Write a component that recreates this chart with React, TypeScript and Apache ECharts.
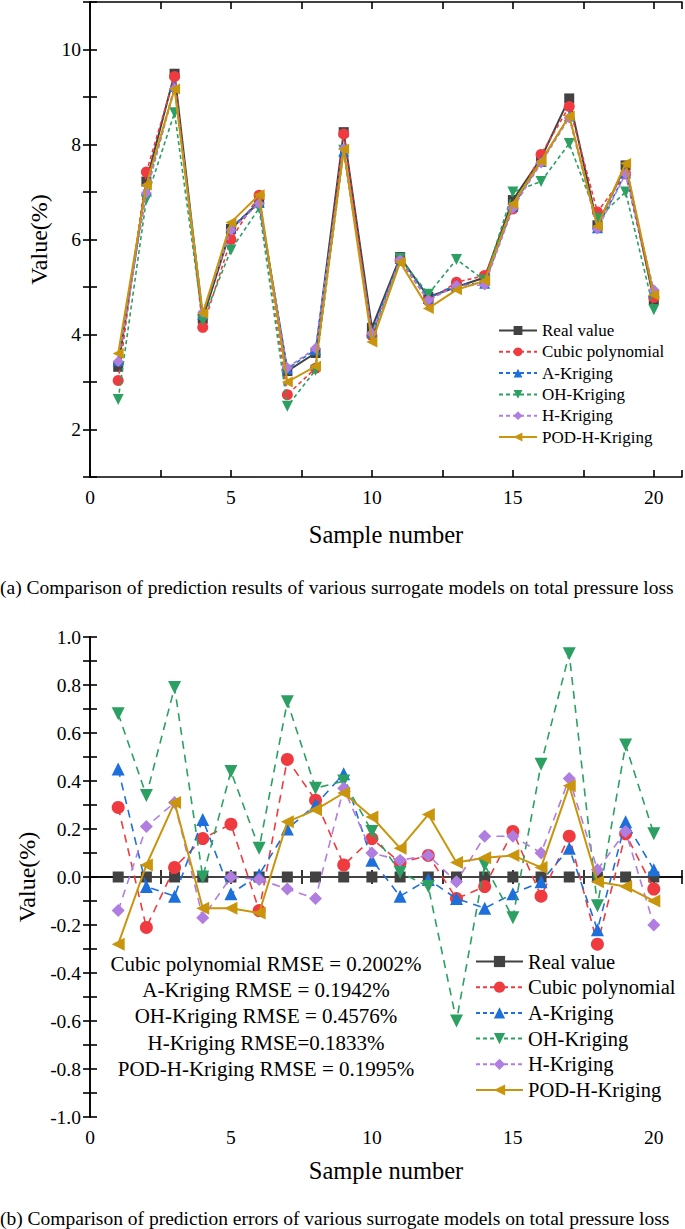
import React, { useEffect, useRef } from "react";
import * as echarts from "echarts";

const samples = [1, 2, 3, 4, 5, 6, 7, 8, 9, 10, 11, 12, 13, 14, 15, 16, 17, 18, 19, 20];

const seriesNames = ["Real value", "Cubic polynomial", "A-Kriging", "OH-Kriging", "H-Kriging", "POD-H-Kriging"];

// (a) predicted values
const realValue = [3.32, 7.22, 9.49, 4.33, 6.22, 6.79, 3.23, 3.61, 8.26, 4.14, 5.63, 4.79, 5.0, 5.2, 6.83, 7.71, 8.97, 6.3, 7.56, 4.73];
const cubicValue = [3.03, 7.42, 9.43, 4.15, 6.0, 6.93, 2.73, 3.29, 8.22, 3.98, 5.56, 4.71, 5.1, 5.24, 6.64, 7.79, 8.8, 6.58, 7.38, 4.78];
const aKrigingValue = [3.45, 7.02, 9.22, 4.42, 6.25, 6.78, 3.28, 3.68, 7.86, 4.05, 5.6, 4.76, 5.05, 5.08, 6.7, 7.64, 8.6, 6.25, 7.4, 4.9];
const ohKrigingValue = [2.63, 6.85, 8.67, 4.3, 5.78, 6.66, 2.49, 3.25, 7.88, 3.95, 5.6, 4.85, 5.58, 5.14, 7.0, 7.22, 8.02, 6.44, 7.0, 4.52];
const hKrigingValue = [3.43, 6.98, 9.18, 4.47, 6.2, 6.76, 3.3, 3.71, 7.91, 4.02, 5.57, 4.72, 5.03, 5.04, 6.66, 7.61, 8.56, 6.22, 7.38, 4.94];
const podValue = [3.6, 7.15, 9.17, 4.44, 6.36, 6.94, 3.0, 3.33, 7.9, 3.84, 5.52, 4.55, 4.94, 5.13, 6.75, 7.65, 8.6, 6.28, 7.6, 4.83];

// (b) prediction errors
const realError = [0, 0, 0, 0, 0, 0, 0, 0, 0, 0, 0, 0, 0, 0, 0, 0, 0, 0, 0, 0];
const cubicError = [0.29, -0.21, 0.04, 0.16, 0.22, -0.14, 0.49, 0.32, 0.05, 0.16, 0.06, 0.09, -0.09, -0.04, 0.19, -0.08, 0.17, -0.28, 0.18, -0.05];
const aKrigingError = [0.45, -0.04, -0.08, 0.24, -0.07, 0.01, 0.2, 0.3, 0.43, 0.07, -0.08, -0.01, -0.09, -0.13, -0.07, -0.02, 0.12, -0.22, 0.23, 0.03];
const ohKrigingError = [0.68, 0.34, 0.79, 0.0, 0.44, 0.12, 0.73, 0.37, 0.4, 0.19, 0.02, -0.04, -0.6, 0.05, -0.17, 0.47, 0.93, -0.12, 0.55, 0.18];
const hKrigingError = [-0.14, 0.21, 0.31, -0.17, 0.0, -0.01, -0.05, -0.09, 0.37, 0.1, 0.07, 0.09, -0.02, 0.17, 0.17, 0.1, 0.41, 0.03, 0.19, -0.2];
const podError = [-0.28, 0.05, 0.31, -0.13, -0.13, -0.15, 0.23, 0.28, 0.35, 0.25, 0.12, 0.26, 0.06, 0.08, 0.09, 0.04, 0.38, -0.02, -0.04, -0.1];

const rmseLines = [
  "Cubic polynomial RMSE = 0.2002%",
  "A-Kriging RMSE = 0.1942%",
  "OH-Kriging RMSE = 0.4576%",
  "H-Kriging RMSE=0.1833%",
  "POD-H-Kriging RMSE = 0.1995%",
];

const captionA = "(a) Comparison of prediction results of various surrogate models on total pressure loss";
const captionB = "(b) Comparison of prediction errors of various surrogate models on total pressure loss";

const FONT = "Liberation Serif";
const colors = ["#424242", "#ef3b3f", "#1d6fdc", "#2ba062", "#b07de0", "#c9950c"];
const symbols = ["rect", "circle", "triangle", "triangle", "diamond", "triangle"];
const rotations = [0, 0, 0, 180, 0, 90];

const App: React.FC = () => {
  const chartRef = useRef<HTMLDivElement>(null);

  useEffect(() => {
    document.body.style.margin = "0";
    const chartDom = chartRef.current;
    if (!chartDom) return;
    const myChart = echarts.init(chartDom, undefined, { renderer: "svg" });

    const axisLine = { show: true, lineStyle: { color: "#000", width: 1.6 } };
    const tick = { show: true, inside: true, length: 7, lineStyle: { color: "#000", width: 1.6 } };

    const makeX = (gridIndex: number, position: "top" | "bottom", nameGap: number) => ({
      type: "value" as const,
      gridIndex,
      position,
      min: 0,
      max: 21,
      interval: 2.5,
      axisLine,
      axisTick: tick,
      splitLine: { show: false },
      axisLabel: {
        show: position === "bottom",
        fontFamily: FONT,
        fontSize: 19.5,
        color: "#000",
        margin: 10,
        formatter: (v: number) => (v % 5 === 0 ? String(v) : ""),
      },
      name: position === "bottom" ? "Sample number" : "",
      nameLocation: "middle" as const,
      nameGap,
      nameTextStyle: { fontFamily: FONT, fontSize: 24.5, color: "#000" },
    });

    const makeY = (
      gridIndex: number,
      position: "left" | "right",
      min: number,
      max: number,
      interval: number,
      fmt: (v: number) => string,
      nameGap: number
    ) => ({
      type: "value" as const,
      gridIndex,
      position,
      min,
      max,
      interval,
      axisLine,
      axisTick: tick,
      splitLine: { show: false },
      axisLabel: {
        show: position === "left",
        fontFamily: FONT,
        fontSize: 19.5,
        color: "#000",
        margin: 9,
        formatter: fmt,
      },
      name: position === "left" ? "Value(%)" : "",
      nameLocation: "middle" as const,
      nameGap,
      nameRotate: 90,
      nameTextStyle: { fontFamily: FONT, fontSize: 24, color: "#000" },
    });

    const topFmt = (v: number) => (Math.round(v) % 2 === 0 ? String(Math.round(v)) : "");
    const bottomFmt = (v: number) => {
      const k = Math.round(v * 10);
      return k % 2 === 0 ? (k / 10).toFixed(1) : "";
    };

    const topData = [realValue, cubicValue, aKrigingValue, ohKrigingValue, hKrigingValue, podValue];
    const bottomData = [realError, cubicError, aKrigingError, ohKrigingError, hKrigingError, podError];

    const makeSeries = (data: number[][], axisIndex: number, dash: number[], big: boolean) =>
      data.map((vals, i) => {
        const solid = i === 0 || i === 5;
        return {
          name: seriesNames[i],
          type: "line" as const,
          xAxisIndex: axisIndex,
          yAxisIndex: axisIndex,
          data: samples.map((s, j) => [s, vals[j]]),
          symbol: symbols[i],
          symbolSize: i === 0 ? (big ? 11 : 10) : big ? 13 : 11,
          symbolRotate: rotations[i],
          itemStyle: { color: colors[i] },
          lineStyle: {
            color: colors[i],
            width: solid ? 2 : 1.6,
            type: solid ? ("solid" as const) : dash,
          },
          z: 2 + i,
        };
      });

    const legendBase = {
      orient: "vertical" as const,
      data: seriesNames,
      selectedMode: false,
      textStyle: { fontFamily: FONT, color: "#000" },
    };

    const option: echarts.EChartsOption = {
      animation: false,
      grid: [
        { left: 90, right: 3, top: 2, height: 475 },
        { left: 90, right: 3, top: 637, height: 480 },
      ],
      xAxis: [makeX(0, "bottom", 45), makeX(0, "top", 45), makeX(1, "bottom", 41), makeX(1, "top", 41)] as any,
      yAxis: [
        makeY(0, "left", 1, 11, 1, topFmt, 37),
        makeY(0, "right", 1, 11, 1, topFmt, 37),
        makeY(1, "left", -1, 1, 0.1, bottomFmt, 46),
        makeY(1, "right", -1, 1, 0.1, bottomFmt, 46),
      ] as any,
      legend: [
        {
          ...legendBase,
          left: 493,
          top: 317,
          itemWidth: 38,
          itemHeight: 11,
          itemGap: 4.3,
          textStyle: { ...legendBase.textStyle, fontSize: 17 },
        },
        {
          ...legendBase,
          left: 470,
          top: 946,
          itemWidth: 47,
          itemHeight: 14,
          itemGap: 4.7,
          textStyle: { ...legendBase.textStyle, fontSize: 20.5 },
        },
      ],
      graphic: [
        ...rmseLines.map((line, i) => ({
          type: "text" as const,
          x: 266,
          y: 964 + i * 26.2,
          style: {
            text: line,
            fontFamily: FONT,
            fontSize: 21,
            fill: "#000",
            textAlign: "center" as const,
            textVerticalAlign: "middle" as const,
          },
        })),
        {
          type: "text",
          x: 0,
          y: 587,
          style: {
            text: captionA,
            fontFamily: FONT,
            fontSize: 19.5,
            fill: "#000",
            textAlign: "left",
            textVerticalAlign: "middle",
          },
        },
        {
          type: "text",
          x: 0,
          y: 1218,
          style: {
            text: captionB,
            fontFamily: FONT,
            fontSize: 19.5,
            fill: "#000",
            textAlign: "left",
            textVerticalAlign: "middle",
          },
        },
      ] as any,
      series: [...makeSeries(topData, 0, [4, 3], false), ...makeSeries(bottomData, 2, [8, 6], true)] as any,
    };

    myChart.setOption(option);

    return () => {
      myChart.dispose();
    };
  }, []);

  return <div ref={chartRef} style={{ width: "685px", height: "1229px" }} />;
};

export default App;
